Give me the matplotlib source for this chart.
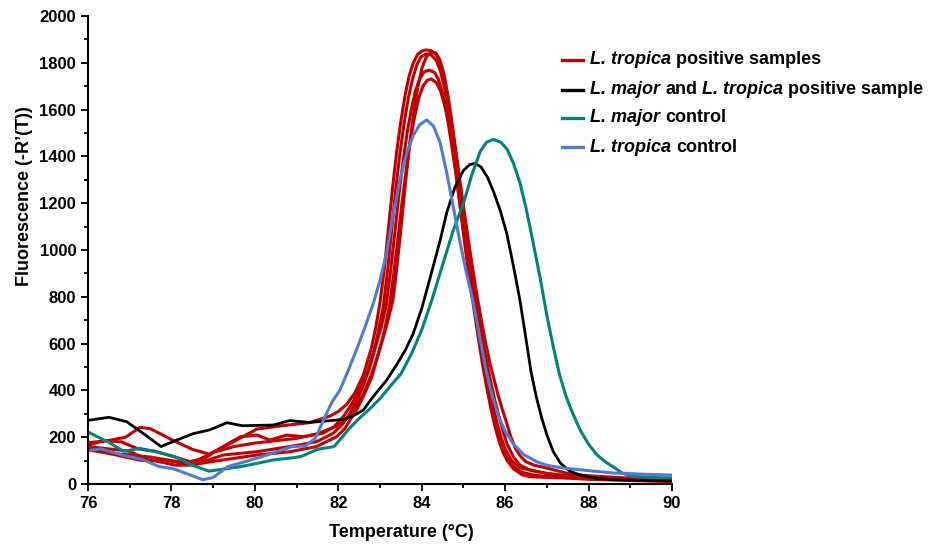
import matplotlib.pyplot as plt
from matplotlib.lines import Line2D
from matplotlib.ticker import MultipleLocator

plt.rcParams['font.family'] = ['Liberation Sans', 'DejaVu Sans']
plt.rcParams['font.weight'] = 'bold'

# valeurs (temperature en degC, fluorescence -R'(T))
red1_t = [76.0, 76.5, 76.9, 77.25, 77.5, 78.0, 78.5, 78.9, 79.4, 80.05, 80.7, 81.3, 81.8, 82.0, 82.2,
          82.4, 82.6, 82.8, 82.9, 83.0, 83.1, 83.2, 83.31, 83.4, 83.5, 83.6, 83.7, 83.8, 83.9, 84.0,
          84.1, 84.22, 84.35, 84.45, 84.55, 84.65, 84.75, 84.85, 84.95, 85.05, 85.15, 85.25, 85.35,
          85.45, 85.55, 85.65, 85.75, 85.85, 85.95, 86.05, 86.2, 86.4, 86.6, 87.0, 87.5, 88.0, 89.0, 90.0]
red1_v = [176, 186, 200, 242, 236, 190, 148, 128, 172, 235, 250, 262, 290, 310, 340,
          390, 465, 585, 670, 775, 915, 1090, 1280, 1420, 1550, 1660, 1745, 1800, 1835, 1850,
          1855, 1852, 1835, 1790, 1710, 1590, 1440, 1290, 1140, 1000, 870, 750, 630,
          520, 420, 330, 250, 185, 135, 100, 65, 40, 31, 28, 25, 20, 15, 10]

red2_t = [76.0, 76.4, 76.8, 77.2, 77.6, 78.0, 78.45, 78.8, 79.24, 79.65, 80.05, 80.36, 80.76, 81.16,
          81.64, 81.9, 82.12, 82.3, 82.5, 82.7, 82.9, 83.08, 83.18, 83.28, 83.38, 83.48, 83.58, 83.68,
          83.78, 83.88, 83.98, 84.1, 84.22, 84.35, 84.45, 84.55, 84.65, 84.75, 84.85, 84.95, 85.05,
          85.15, 85.25, 85.35, 85.45, 85.55, 85.65, 85.75, 85.85, 85.95, 86.05, 86.2, 86.4, 86.7,
          87.0, 87.5, 88.0, 89.0, 90.0]
red2_v = [167, 185, 180, 150, 140, 120, 95, 110, 160, 202, 209, 188, 209, 202,
          217, 245, 288, 335, 400, 480, 600, 760, 910, 1085, 1265, 1415, 1545, 1650,
          1730, 1790, 1825, 1838, 1835, 1810, 1765, 1690, 1580, 1450, 1310, 1170, 1030,
          900, 780, 660, 550, 450, 360, 280, 210, 150, 110, 75, 50, 38,
          32, 28, 24, 18, 12]

red3_t = [76.0, 76.5, 77.0, 77.5, 78.0, 78.45, 78.85, 79.24, 80.05, 80.84, 81.48, 81.88, 82.1, 82.28,
          82.45, 82.6, 82.75, 82.9, 83.03, 83.15, 83.25, 83.35, 83.45, 83.55, 83.65, 83.75, 83.85,
          83.95, 84.05, 84.17, 84.3, 84.4, 84.5, 84.6, 84.7, 84.8, 84.9, 85.0, 85.1, 85.2, 85.3,
          85.4, 85.5, 85.6, 85.7, 85.8, 85.9, 86.0, 86.15, 86.36, 86.7, 87.0, 87.5, 88.0, 89.0, 90.0]
red3_v = [152, 130, 125, 115, 100, 88, 100, 124, 138, 160, 181, 217, 255, 302,
          360, 420, 495, 590, 670, 765, 905, 1065, 1230, 1375, 1500, 1600, 1680,
          1730, 1760, 1769, 1760, 1730, 1670, 1580, 1470, 1350, 1220, 1090, 960, 840, 720,
          610, 510, 420, 340, 265, 200, 150, 100, 70, 55, 45, 32, 25, 18, 14]

red4_t = [76.0, 76.5, 77.0, 77.4, 77.8, 78.1, 78.45, 79.24, 80.05, 80.84, 81.48, 81.96, 82.15, 82.28,
          82.45, 82.6, 82.8, 82.95, 83.1, 83.23, 83.33, 83.43, 83.53, 83.63, 83.73, 83.83, 83.93,
          84.03, 84.13, 84.23, 84.35, 84.45, 84.55, 84.65, 84.75, 84.85, 84.95, 85.05, 85.15, 85.25,
          85.35, 85.45, 85.55, 85.65, 85.75, 85.85, 85.95, 86.05, 86.2, 86.36, 86.6, 87.0, 87.5,
          88.0, 89.0, 90.0]
red4_v = [160, 150, 140, 105, 92, 80, 81, 103, 124, 138, 160, 202, 235, 273,
          320, 375, 455, 550, 650, 765, 900, 1050, 1205, 1345, 1470, 1570, 1650,
          1700, 1725, 1731, 1715, 1680, 1620, 1540, 1440, 1330, 1210, 1090, 970, 850,
          740, 630, 530, 440, 360, 290, 225, 170, 115, 80, 60, 45, 35,
          28, 20, 16]

red5_t = [76.0, 76.4, 76.9, 77.3, 77.8, 78.2, 78.6, 79.0, 79.5, 80.0, 80.5, 81.0, 81.5, 82.0, 82.2,
          82.4, 82.6, 82.8, 82.95, 83.1, 83.2, 83.31, 83.41, 83.51, 83.61, 83.71, 83.81, 83.91,
          84.01, 84.11, 84.22, 84.33, 84.43, 84.53, 84.63, 84.73, 84.83, 84.93, 85.03, 85.13, 85.23,
          85.33, 85.43, 85.53, 85.63, 85.73, 85.83, 85.93, 86.03, 86.13, 86.25, 86.36, 86.5, 86.7,
          87.0, 87.5, 88.0, 89.0, 90.0]
red5_v = [145, 135, 115, 100, 105, 90, 100, 135, 160, 175, 185, 195, 215, 250, 280,
          320, 385, 470, 550, 640, 705, 785, 935, 1105, 1285, 1450, 1590, 1700,
          1780, 1825, 1845, 1843, 1815, 1755, 1660, 1540, 1410, 1280, 1150, 1030, 910,
          800, 700, 605, 520, 450, 380, 320, 265, 205, 150, 120, 95, 80,
          68, 45, 35, 25, 20]

black_t = [76.0, 76.5, 76.93, 77.41, 77.75, 78.13, 78.52, 78.93, 79.33, 79.7, 80.44, 80.84, 81.32,
           82.12, 82.36, 82.6, 82.83, 83.0, 83.16, 83.4, 83.6, 83.79, 84.0, 84.2, 84.44, 84.6, 84.8,
           85.0, 85.15, 85.28, 85.42, 85.58, 85.72, 85.88, 86.04, 86.2, 86.35, 86.5, 86.62, 86.75,
           86.88, 87.0, 87.15, 87.32, 87.55, 87.8, 88.2, 88.6, 89.3, 90.0]
black_v = [272, 285, 266, 205, 160, 188, 215, 232, 262, 249, 252, 271, 263,
           276, 292, 316, 372, 409, 444, 510, 570, 640, 750, 880, 1040, 1160, 1270,
           1340, 1365, 1370, 1355, 1310, 1250, 1170, 1070, 930, 790, 620, 480, 370,
           280, 210, 140, 90, 55, 38, 25, 18, 15, 14]

teal_t = [76.0, 76.5, 76.85, 77.25, 77.7, 78.1, 78.5, 78.9, 79.3, 79.65, 80.1, 80.45, 80.9, 81.1,
          81.5, 81.9, 82.28, 82.5, 82.75, 83.0, 83.28, 83.5, 83.75, 84.0, 84.25, 84.5, 84.75, 85.0,
          85.2, 85.4, 85.55, 85.72, 85.9, 86.05, 86.2, 86.35, 86.5, 86.65, 86.84, 87.0, 87.15, 87.3,
          87.45, 87.6, 87.8, 88.0, 88.2, 88.4, 88.6, 88.8, 89.0, 89.5, 90.0]
teal_v = [222, 178, 140, 152, 135, 115, 80, 55, 65, 74, 90, 103, 112, 117,
          148, 160, 240, 280, 320, 365, 425, 470, 555, 658, 790, 936, 1080, 1200,
          1320, 1420, 1460, 1473, 1460, 1430, 1370, 1290, 1180, 1050, 880, 720, 590, 470,
          380, 310, 230, 170, 125, 95, 72, 48, 33, 28, 26]

blue_t = [76.0, 76.3, 76.9, 77.3, 77.7, 78.05, 78.4, 78.75, 79.0, 79.35, 80.1, 80.9, 81.2, 81.45,
          81.7, 81.85, 82.04, 82.25, 82.45, 82.65, 82.84, 83.0, 83.16, 83.3, 83.48, 83.65, 83.8,
          83.95, 84.12, 84.28, 84.44, 84.6, 84.75, 84.9, 85.05, 85.23, 85.4, 85.55, 85.7, 85.85,
          86.0, 86.2, 86.45, 86.76, 87.0, 87.4, 88.0, 88.6, 89.3, 90.0]
blue_v = [142, 150, 120, 105, 75, 65, 42, 18, 28, 74, 113, 160, 162, 195,
          295, 350, 402, 490, 580, 675, 772, 870, 990, 1135, 1300, 1420, 1490,
          1535, 1556, 1530, 1460, 1330, 1190, 1050, 920, 780, 620, 480, 370, 285,
          225, 170, 125, 95, 80, 68, 57, 47, 42, 38]

red_curves = [(red1_t, red1_v), (red2_t, red2_v), (red3_t, red3_v),
              (red4_t, red4_v), (red5_t, red5_v)]

c_red = '#C00000'
c_black = '#000000'
c_teal = '#00837A'
c_blue = '#4F7BD0'

# legende : (couleur, [(morceau de texte, italique ?)])
legend_rows = [
    (c_red, [('L. tropica', True), ('positive samples', False)]),
    (c_black, [('L. major', True), ('and', False), ('L. tropica', True), ('positive sample', False)]),
    (c_teal, [('L. major', True), ('control', False)]),
    (c_blue, [('L. tropica', True), ('control', False)]),
]

W, H = 939, 544
fig = plt.figure(figsize=(W / 100, H / 100), dpi=100)
ax = fig.add_axes([88 / W, 1 - 484 / H, 584 / W, 468 / H])

for t, v in red_curves:
    ax.plot(t, v, color=c_red, lw=2.2, solid_joinstyle='round')
ax.plot(black_t, black_v, color=c_black, lw=2.0, solid_joinstyle='round')
ax.plot(teal_t, teal_v, color=c_teal, lw=2.2, solid_joinstyle='round')
ax.plot(blue_t, blue_v, color=c_blue, lw=2.2, solid_joinstyle='round')

ax.set_xlim(76, 90)
ax.set_ylim(0, 2000)
ax.xaxis.set_major_locator(MultipleLocator(2))
ax.xaxis.set_minor_locator(MultipleLocator(1))
ax.yaxis.set_major_locator(MultipleLocator(200))
ax.yaxis.set_minor_locator(MultipleLocator(100))
ax.tick_params(which='both', direction='out', width=1.3, labelsize=12)
ax.tick_params(which='major', length=5)
ax.tick_params(which='minor', length=3)
for s in ['top', 'right']:
    ax.spines[s].set_visible(False)
for s in ['left', 'bottom']:
    ax.spines[s].set_linewidth(1.5)

ax.set_xlabel('Temperature (°C)', fontsize=13, fontweight='bold')
ax.set_ylabel('Fluorescence (-R’(T))', fontsize=13, fontweight='bold')
ax.xaxis.set_label_coords(0.536, -0.085)
ax.yaxis.set_label_coords(-0.094, 0.615)

# legende dessinee a la main pour melanger italique et droit
renderer = fig.canvas.get_renderer()
fs = 13


def text_width(s, style):
    tmp = fig.text(0, 0, s, fontsize=fs, fontweight='bold', fontstyle=style)
    w = tmp.get_window_extent(renderer).width
    tmp.remove()
    return w


space_w = text_width('x x', 'normal') - text_width('xx', 'normal')
row_y = [60, 90, 118, 147]
for (col, parts), py in zip(legend_rows, row_y):
    yf = 1 - py / H
    fig.add_artist(Line2D([562 / W, 583 / W], [yf, yf], color=col, lw=2.4,
                          transform=fig.transFigure))
    x = 590
    for k, (s, ital) in enumerate(parts):
        style = 'italic' if ital else 'normal'
        fig.text(x / W, yf, s, fontsize=fs, fontweight='bold', fontstyle=style, va='center')
        x += text_width(s, style) + space_w

fig.savefig('out.png', dpi=100)
plt.close(fig)
